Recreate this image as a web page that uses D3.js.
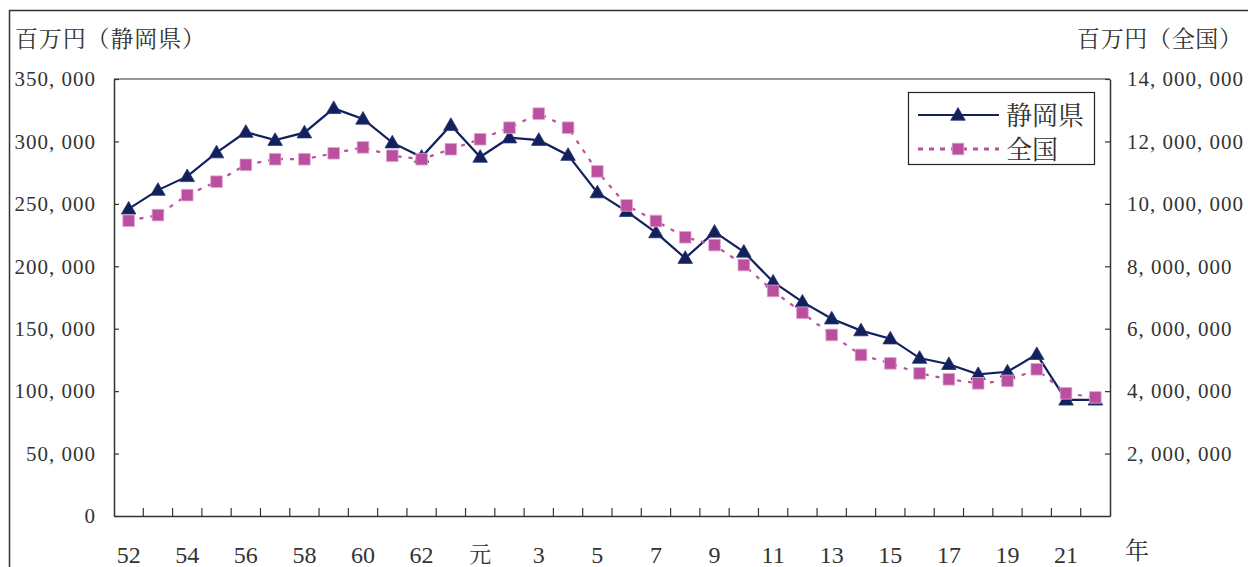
<!DOCTYPE html>
<html lang="ja">
<head>
<meta charset="utf-8">
<script src="https://cdn.jsdelivr.net/npm/d3@7"></script>
<style>
  html, body { margin: 0; padding: 0; background: #fff; }
  svg { display: block; }
  .num { font-family: "Liberation Serif", "DejaVu Serif", serif; fill: #333; }
  .jp { font-family: "Noto Serif CJK JP", "Noto Sans CJK JP", sans-serif; fill: #333; }
</style>
</head>
<body>
<svg id="chart" width="1248" height="567"></svg>
<script>
// 年次（昭和52年〜平成22年）
const categories = ["52","53","54","55","56","57","58","59","60","61","62","63",
  "元","2","3","4","5","6","7","8","9","10","11","12","13","14","15","16","17","18","19","20","21","22"];

// 静岡県（百万円）
const shizuoka = [246000, 261000, 272000, 291000, 307500, 301000, 307000, 326500, 318000, 299000, 287500, 313000,
  287500, 303000, 301000, 289000, 259000, 244000, 227000, 206500, 227500, 211500, 187500, 171500,
  158000, 148500, 142000, 126500, 121500, 113500, 115500, 129500, 93000, 93000];

// 全国（百万円）
const zenkoku = [9460000, 9640000, 10280000, 10710000, 11250000, 11430000, 11430000, 11620000, 11810000, 11540000, 11430000, 11750000,
  12070000, 12440000, 12890000, 12440000, 11040000, 9950000, 9450000, 8930000, 8680000, 8040000, 7210000, 6510000,
  5800000, 5160000, 4890000, 4570000, 4380000, 4250000, 4330000, 4700000, 3930000, 3800000];

const leftTicks = [0, 50000, 100000, 150000, 200000, 250000, 300000, 350000];
const rightTicks = [2000000, 4000000, 6000000, 8000000, 10000000, 12000000, 14000000];
const seriesNames = ["静岡県", "全国"];

const svg = d3.select("#chart");
const plot = { left: 114, right: 1110, top: 79, bottom: 516 };
const navy = "#13205e";
const magenta = "#bb4f9f";

// 外枠
svg.append("path")
  .attr("d", "M9.5,567 V10.5 H1248")
  .attr("fill", "none").attr("stroke", "#333").attr("stroke-width", 1.5);

const x = d3.scaleBand().domain(categories).range([plot.left, plot.right]).padding(0);
const cx = c => x(c) + x.bandwidth() / 2;
const yL = d3.scaleLinear().domain([0, 350000]).range([plot.bottom, plot.top]);
const yR = d3.scaleLinear().domain([0, 14000000]).range([plot.bottom, plot.top]);

const fmt = d => d3.format(",")(d).replace(/,/g, ", ");

// 上辺（灰色）
svg.append("line")
  .attr("x1", plot.left).attr("x2", plot.right)
  .attr("y1", plot.top).attr("y2", plot.top)
  .attr("stroke", "#999").attr("stroke-width", 2);

// 左軸
const gL = svg.append("g").attr("transform", `translate(${plot.left},0)`)
  .call(d3.axisLeft(yL).tickValues(leftTicks).tickSizeInner(-5).tickSizeOuter(0).tickPadding(18).tickFormat(fmt));
// 右軸
const gR = svg.append("g").attr("transform", `translate(${plot.right},0)`)
  .call(d3.axisRight(yR).tickValues(rightTicks).tickSizeInner(-5).tickSizeOuter(0).tickPadding(17).tickFormat(fmt));

[gL, gR].forEach(g => {
  g.select(".domain").attr("stroke", "#333").attr("stroke-width", 1.5);
  g.selectAll(".tick line").attr("stroke", "#333").attr("stroke-width", 1.2);
  g.selectAll(".tick text").attr("class", "num").attr("font-size", 21).attr("letter-spacing", 1)
    .attr("fill", "#333");
});

// 下軸
const gB = svg.append("g").attr("transform", `translate(0,${plot.bottom})`)
  .call(d3.axisBottom(x).tickSize(0).tickPadding(30)
    .tickFormat((d, i) => i % 2 === 0 ? d : ""));
gB.select(".domain").attr("stroke", "#333").attr("stroke-width", 1.5);
gB.selectAll(".tick text").attr("class", d => /\d/.test(d) ? "num" : "jp")
  .attr("font-size", d => /\d/.test(d) ? 24 : 22).attr("fill", "#333");
// 区切り目盛（内向き）
gB.selectAll(".sep").data(categories.slice(1)).join("line")
  .attr("class", "sep")
  .attr("x1", d => x(d)).attr("x2", d => x(d))
  .attr("y1", 0).attr("y2", -8)
  .attr("stroke", "#333").attr("stroke-width", 1.2);

svg.append("text").attr("class", "jp").attr("x", 1137).attr("y", 559)
  .attr("text-anchor", "middle").attr("font-size", 24).text("年");

// 軸タイトル
svg.append("text").attr("class", "jp").attr("x", 15).attr("y", 47)
  .attr("font-size", 23).attr("textLength", 190).text("百万円（静岡県）");
svg.append("text").attr("class", "jp").attr("x", 1077).attr("y", 47)
  .attr("font-size", 23).attr("textLength", 165).text("百万円（全国）");

// 折れ線
const lineL = d3.line().x((d, i) => cx(categories[i])).y(d => yL(d));
const lineR = d3.line().x((d, i) => cx(categories[i])).y(d => yR(d));

const tri = d3.symbol().type(d3.symbolTriangle).size(92);
const sq = d3.symbol().type(d3.symbolSquare).size(136);

svg.append("path").datum(shizuoka).attr("d", lineL)
  .attr("fill", "none").attr("stroke", navy).attr("stroke-width", 2.2);
svg.append("g").selectAll("path").data(shizuoka).join("path")
  .attr("d", tri)
  .attr("transform", (d, i) => `translate(${cx(categories[i])},${yL(d) + 1})`)
  .attr("fill", navy).attr("stroke", "#2a3570").attr("stroke-width", 0.8);

svg.append("path").datum(zenkoku).attr("d", lineR)
  .attr("fill", "none").attr("stroke", magenta).attr("stroke-width", 2.2)
  .attr("stroke-dasharray", "4,7");
svg.append("g").selectAll("path").data(zenkoku).join("path")
  .attr("d", sq)
  .attr("transform", (d, i) => `translate(${cx(categories[i])},${yR(d)})`)
  .attr("fill", magenta).attr("stroke", "#e3a8d3").attr("stroke-width", 0.8);

// 凡例
const lg = svg.append("g").attr("transform", "translate(908,92)");
lg.append("rect").attr("x", 0.5).attr("y", 0.5).attr("width", 186).attr("height", 72)
  .attr("fill", "#fff").attr("stroke", "#222").attr("stroke-width", 1.2);
const rows = [
  { name: seriesNames[0], y: 23, color: navy, dash: null, sym: tri, stroke: "#2a3570" },
  { name: seriesNames[1], y: 57, color: magenta, dash: "5,6", sym: sq, stroke: "#e3a8d3" }
];
rows.forEach(r => {
  lg.append("line").attr("x1", 10).attr("x2", 91).attr("y1", r.y).attr("y2", r.y)
    .attr("stroke", r.color).attr("stroke-width", r.dash ? 3 : 2.2)
    .attr("stroke-dasharray", r.dash);
  lg.append("path").attr("d", r.sym)
    .attr("transform", `translate(50,${r.y + (r.dash ? 0 : 1)})`)
    .attr("fill", r.color).attr("stroke", r.stroke).attr("stroke-width", 0.8);
  lg.append("text").attr("class", "jp").attr("x", 98).attr("y", r.y + 10)
    .attr("font-size", 26).text(r.name);
});
</script>
</body>
</html>
